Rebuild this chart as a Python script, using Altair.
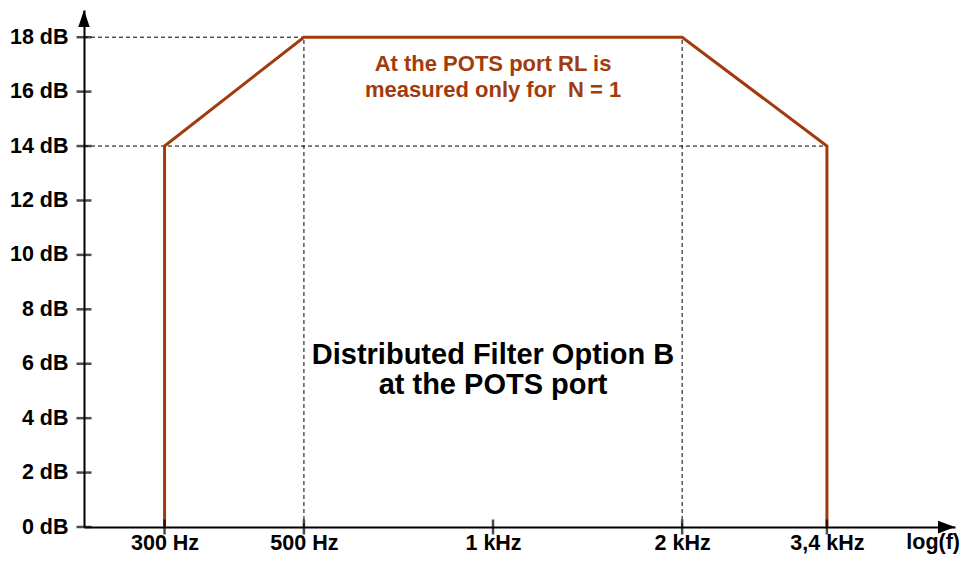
import altair as alt
import pandas as pd

# ---- data ----
freq_hz = [300, 300, 500, 2000, 3400, 3400]
rl_db = [0, 14, 18, 18, 14, 0]

x_tick_values = [300, 500, 1000, 2000, 3400]
x_tick_labels = ["300 Hz", "500 Hz", "1 kHz", "2 kHz", "3,4 kHz"]
y_tick_values = [0, 2, 4, 6, 8, 10, 12, 14, 16, 18]
y_tick_labels = ["0 dB", "2 dB", "4 dB", "6 dB", "8 dB", "10 dB", "12 dB", "14 dB", "16 dB", "18 dB"]

x_domain = [223.3, 5437]
y_domain = [0, 19]

guide_x = [223.3, 223.3, 500, 2000]
guide_x2 = [500, 3400, 500, 2000]
guide_y = [18, 14, 0, 0]
guide_y2 = [18, 14, 18, 18]

note_lines = ["At the POTS port RL is", "measured only for\u00a0 N = 1"]
note_pos = [1000, 17.0]
title_lines = ["Distributed Filter Option B", "at the POTS port"]
title_pos = [1000, 6.31]
x_axis_name = "log(f)"

BROWN = "#A23B0C"
FONT = "Liberation Sans"

xs = alt.Scale(type="log", domain=x_domain, nice=False)
ys = alt.Scale(domain=y_domain, nice=False, zero=False)


def label_expr(values, labels):
    expr = "''"
    for v, l in reversed(list(zip(values, labels))):
        expr = f"datum.value == {v} ? '{l}' : ({expr})"
    return expr


x_axis = alt.Axis(
    values=x_tick_values,
    labelExpr=label_expr(x_tick_values, x_tick_labels),
    ticks=False,
    grid=False,
    domainColor="black",
    domainWidth=2,
    labelFont=FONT,
    labelFontSize=21.5,
    labelFontWeight="bold",
    labelColor="black",
    labelBaseline="alphabetic",
    labelPadding=22,
    labelFlush=False,
    labelOverlap=False,
    title=None,
)
y_axis = alt.Axis(
    values=y_tick_values,
    labelExpr=label_expr(y_tick_values, y_tick_labels),
    ticks=False,
    grid=False,
    domainColor="black",
    domainWidth=2,
    labelFont=FONT,
    labelFontSize=21.5,
    labelFontWeight="bold",
    labelColor="black",
    labelPadding=16,
    labelFlush=False,
    labelOverlap=False,
    title=None,
)


def X(field):
    return alt.X(field, type="quantitative", scale=xs, axis=x_axis)


def Y(field):
    return alt.Y(field, type="quantitative", scale=ys, axis=y_axis)


curve = pd.DataFrame({"f": freq_hz, "rl": rl_db, "order": range(len(freq_hz))})
guides = pd.DataFrame({"x": guide_x, "x2": guide_x2, "y": guide_y, "y2": guide_y2})
yticks = pd.DataFrame({"x": [x_domain[0]] * len(y_tick_values), "y": y_tick_values})
xticks = pd.DataFrame({"x": x_tick_values, "y": [y_domain[0]] * len(x_tick_values)})

guide_layer = alt.Chart(guides).mark_rule(color="black", strokeWidth=1, strokeDash=[4, 3]).encode(
    x=X("x"), x2="x2:Q", y=Y("y"), y2="y2:Q",
)

line_layer = alt.Chart(curve).mark_line(color=BROWN, strokeWidth=3, strokeJoin="miter").encode(
    x=X("f"), y=Y("rl"), order="order:Q",
)

ytick_layer = alt.Chart(yticks).mark_tick(orient="horizontal", color="black", size=15, thickness=2.5).encode(
    x=X("x"), y=Y("y"),
)
xtick_layer = alt.Chart(xticks).mark_tick(orient="vertical", color="black", size=15, thickness=2.5).encode(
    x=X("x"), y=Y("y"),
)

arrows = pd.DataFrame({
    "x": [x_domain[0], x_domain[1]],
    "y": [y_domain[1], y_domain[0]],
    "shape": ["M0,0L0.67,2L-0.67,2Z", "M0,0L-2,-0.75L-2,0.75Z"],
})
arrow_layer = alt.Chart(arrows).mark_point(filled=True, color="black", opacity=1, size=289).encode(
    x=X("x"), y=Y("y"),
    shape=alt.Shape("shape:N", scale=None),
)

note_df = pd.DataFrame({"x": [note_pos[0]], "y": [note_pos[1]], "t": [note_lines]})
note_layer = alt.Chart(note_df).mark_text(
    font=FONT, fontSize=22, fontWeight="bold", color=BROWN, lineHeight=26,
    align="center", baseline="middle",
).encode(x=X("x"), y=Y("y"), text="t")

title_df = pd.DataFrame({"x": [title_pos[0]], "y": [title_pos[1]], "t": [title_lines]})
title_layer = alt.Chart(title_df).mark_text(
    font=FONT, fontSize=29, fontWeight="bold", color="black", lineHeight=30,
    align="center", baseline="middle",
).encode(x=X("x"), y=Y("y"), text="t")

axname_df = pd.DataFrame({"x": [x_domain[1]], "y": [y_domain[0]], "t": [x_axis_name]})
axname_layer = alt.Chart(axname_df).mark_text(
    font=FONT, fontSize=21.5, fontWeight="bold", color="black",
    align="right", baseline="alphabetic", dx=5, dy=22,
).encode(x=X("x"), y=Y("y"), text="t:N")

chart = alt.layer(
    guide_layer, line_layer, ytick_layer, xtick_layer, arrow_layer,
    note_layer, title_layer, axname_layer,
).properties(
    width=871,
    height=517,
    autosize=alt.AutoSizeParams(type="none"),
    padding={"left": 76, "top": 2, "right": 5, "bottom": 27},
    background="white",
).configure_view(stroke=None)

chart.save("out.html", embed_options={"renderer": "svg", "actions": False})
